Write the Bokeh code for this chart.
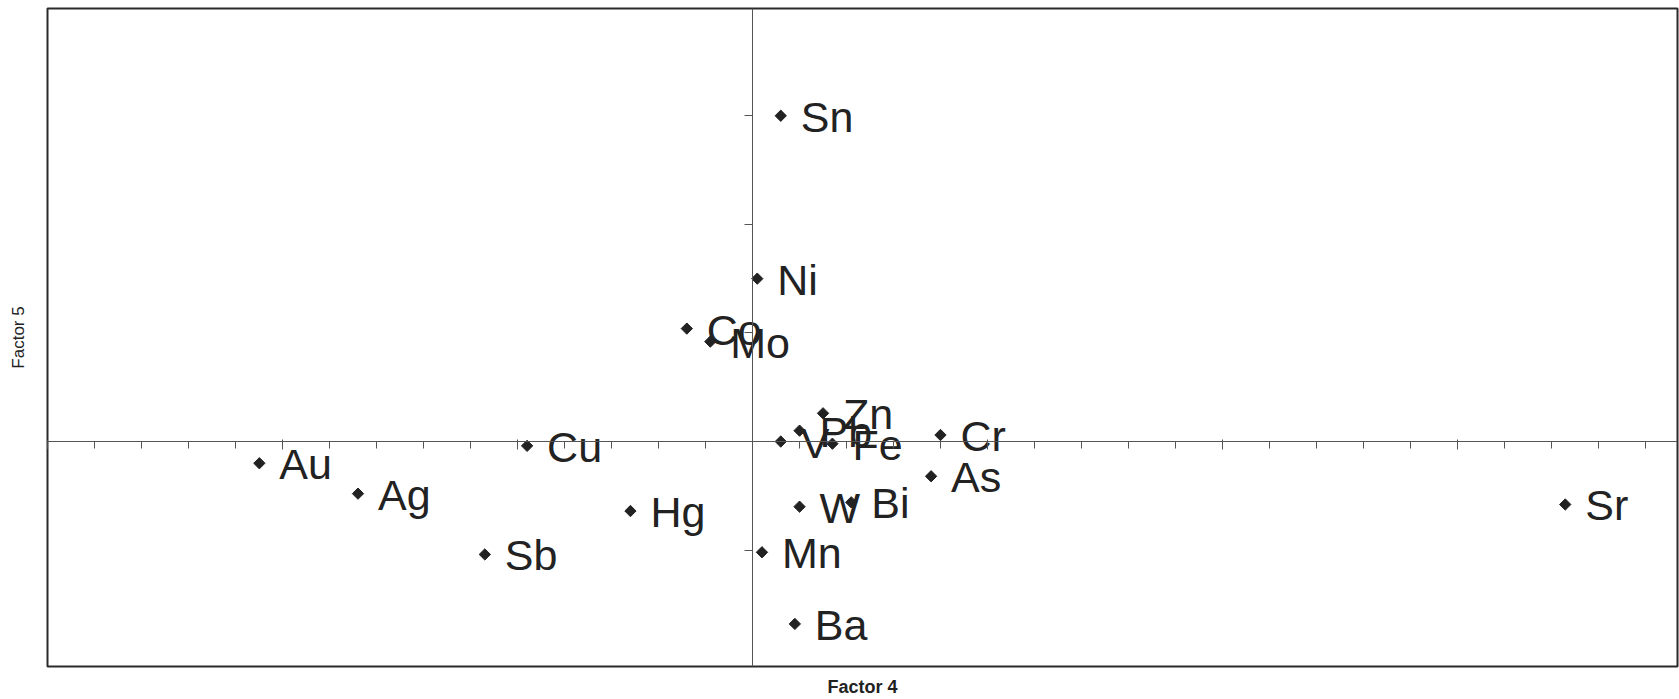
from bokeh.plotting import figure
from bokeh.models import (LinearAxis, SingleIntervalTicker, FixedTicker,
                          CustomJSTickFormatter, ColumnDataSource)
from bokeh.core.properties import value
from bokeh.embed import file_html
from bokeh.resources import INLINE
import numpy as np

# Element loadings on factor 4 (x) and factor 5 (y)
elements = ["Sn", "Ni", "Co", "Mo", "Zn", "Pb", "V", "Fe", "Cr", "Cu",
            "Au", "Ag", "As", "Hg", "W", "Bi", "Sr", "Sb", "Mn", "Ba"]
factor4 = [0.06, 0.01, -0.14, -0.09, 0.15, 0.10, 0.06, 0.17, 0.40, -0.48,
           -1.05, -0.84, 0.38, -0.26, 0.10, 0.21, 1.73, -0.57, 0.02, 0.09]
factor5 = [1.50, 0.75, 0.52, 0.46, 0.13, 0.05, 0.00, -0.01, 0.03, -0.02,
           -0.10, -0.24, -0.16, -0.32, -0.30, -0.28, -0.29, -0.52, -0.51, -0.84]

# Tick positions on the axes through the origin
y_ticks = [-0.5, 0.0, 0.5, 1.0, 1.5]

x_title = "Factor 4"
y_title = "Factor 5"

src = ColumnDataSource(dict(x=factor4, y=factor5, name=elements))

INK = "#222222"
AXIS = "#555555"

p = figure(width=1679, height=699,
           x_range=(-1.501, 1.969), y_range=(-1.036, 1.994),
           output_backend="svg", toolbar_location=None,
           min_border_left=47, min_border_right=2,
           min_border_top=8, min_border_bottom=30)
p.background_fill_color = "white"
p.border_fill_color = "white"
p.outline_line_color = "#2a2a2a"
p.outline_line_width = 2
p.xgrid.grid_line_color = None
p.ygrid.grid_line_color = None

# Outer axes only carry the titles
for ax in (p.xaxis[0], p.yaxis[0]):
    ax.ticker = FixedTicker(ticks=[])
    ax.axis_line_color = None
    ax.major_tick_line_color = None
    ax.minor_tick_line_color = None
    ax.axis_label_text_color = INK
    ax.axis_label_text_font = "Liberation Sans"

p.xaxis[0].axis_label = x_title
p.xaxis[0].axis_label_text_font_size = "18px"
p.xaxis[0].axis_label_text_font_style = "bold"
p.xaxis[0].axis_label_standoff = 10

p.yaxis[0].axis_label = y_title
p.yaxis[0].axis_label_text_font_size = "17px"
p.yaxis[0].axis_label_text_font_style = "normal"
p.yaxis[0].axis_label_standoff = 20

blank = CustomJSTickFormatter(code="return ''")

# Axes crossing at the origin
x0 = LinearAxis(fixed_location=0,
                ticker=SingleIntervalTicker(interval=0.5, num_minor_ticks=5),
                formatter=blank)
x0.axis_line_color = AXIS
x0.axis_line_width = 1
x0.major_tick_in = 8
x0.major_tick_out = 2
x0.minor_tick_in = 7
x0.minor_tick_out = 0
x0.major_tick_line_color = AXIS
x0.minor_tick_line_color = AXIS
x0.major_label_text_font_size = "1px"
x0.major_label_standoff = 0
p.add_layout(x0, "above")

y0 = LinearAxis(fixed_location=0, ticker=FixedTicker(ticks=y_ticks),
                formatter=blank)
y0.axis_line_color = AXIS
y0.axis_line_width = 1
y0.major_tick_in = 8
y0.major_tick_out = 0
y0.minor_tick_line_color = None
y0.major_tick_line_color = AXIS
y0.major_label_text_font_size = "1px"
y0.major_label_standoff = 0
p.add_layout(y0, "right")

p.scatter("x", "y", source=src, marker="square", angle=np.pi / 4,
          size=8, fill_color=INK, line_color=INK)

p.text("x", "y", text="name", source=src, x_offset=20, y_offset=1,
       text_baseline="middle", text_align="left",
       text_font=value("Liberation Sans"), text_font_size="43px",
       text_color=INK)

open("out.html", "w").write(file_html(p, INLINE))
